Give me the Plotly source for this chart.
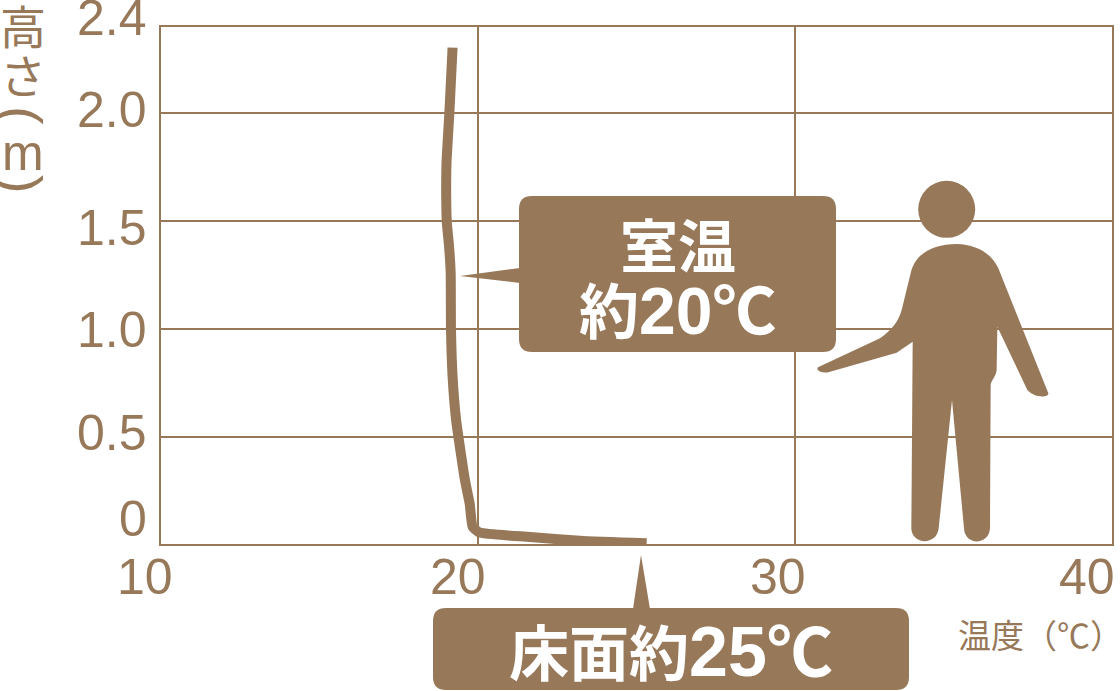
import plotly.graph_objects as go

# ---- data ----
temperature_c = [19.21, 19.11, 19.02, 19.01, 19.03, 19.10, 19.15, 19.16, 19.21, 19.32, 19.60, 19.75, 19.84, 20.05, 21.65, 23.22, 25.32]
height_m = [2.30, 2.00, 1.77, 1.61, 1.49, 1.38, 1.26, 1.00, 0.78, 0.58, 0.30, 0.19, 0.085, 0.058, 0.037, 0.02, 0.008]
x_ticks = [10, 20, 30, 40]
y_ticks = [0, 0.5, 1.0, 1.5, 2.0, 2.4]
x_tick_labels = ["10", "20", "30", "40"]
y_tick_labels = ["0", "0.5", "1.0", "1.5", "2.0", "2.4"]

BROWN = "#97795A"
W, H = 1120, 691
L, R, T, B = 160, 1113, 26, 545
CJK = "Noto Sans CJK JP"
LAT = "Liberation Sans"


def X(p):
    return (p - L) / (R - L)


def Y(p):
    return (B - p) / (B - T)


def path(cmds):
    out = []
    for c in cmds:
        op, pts = c[0], c[1:]
        out.append(op + " ".join(f"{X(pts[i]):.5f},{Y(pts[i+1]):.5f}" for i in range(0, len(pts), 2)))
    return " ".join(out) + " Z"


def rrect(x0, y0, x1, y1, r):
    return path([
        ("M", x0 + r, y0), ("L", x1 - r, y0), ("Q", x1, y0, x1, y0 + r),
        ("L", x1, y1 - r), ("Q", x1, y1, x1 - r, y1), ("L", x0 + r, y1),
        ("Q", x0, y1, x0, y1 - r), ("L", x0, y0 + r), ("Q", x0, y0, x0 + r, y0),
    ])


def Z(zx, zy):
    return (800 + zx / 3, 170 + zy / 3)


def zcmd(op, *pts):
    flat = []
    for zx, zy in pts:
        flat.extend(Z(zx, zy))
    return (op, *flat)


person = path([
    zcmd("M", (470, 222)),
    zcmd("C", (530, 224), (575, 250), (595, 295)),
    zcmd("L", (745, 670)),
    zcmd("C", (748, 682), (705, 686), (682, 660)),
    zcmd("L", (592, 470)),
    zcmd("L", (590, 600)),
    zcmd("C", (588, 620), (574, 630), (572, 645)),
    zcmd("L", (570, 1075)),
    zcmd("C", (568, 1125), (495, 1130), (492, 1075)),
    zcmd("L", (456, 690)),
    zcmd("L", (416, 1075)),
    zcmd("C", (410, 1128), (335, 1125), (334, 1075)),
    zcmd("L", (338, 515)),
    zcmd("L", (290, 548)),
    zcmd("L", (85, 607)),
    zcmd("C", (70, 610), (45, 602), (54, 592)),
    zcmd("L", (240, 505)),
    zcmd("C", (275, 480), (295, 455), (305, 420)),
    zcmd("L", (332, 310)),
    zcmd("C", (345, 250), (400, 222), (470, 222)),
])

shapes = [
    dict(type="path", path=rrect(519, 196, 836, 352, 13)),
    dict(type="path", path=path([("M", 460, 276), ("L", 520, 268), ("L", 520, 283)])),
    dict(type="path", path=rrect(433, 608, 909, 690, 13)),
    dict(type="path", path=path([("M", 641, 555), ("L", 650, 609), ("L", 633, 609)])),
    dict(type="circle", x0=X(918.2), x1=X(975.2), y0=Y(237.8), y1=Y(180.8)),
    dict(type="path", path=person),
]
for s in shapes:
    s.update(xref="paper", yref="paper", fillcolor=BROWN, line=dict(width=0), layer="above")
shapes.insert(0, dict(type="rect", xref="paper", yref="paper", x0=0, x1=1, y0=0, y1=1,
                      line=dict(color=BROWN, width=2), fillcolor="rgba(0,0,0,0)", layer="below"))

annotations = []


def txt(text, px, py, size, color=BROWN, font=LAT, xanchor="center", angle=0, weight=None):
    f = dict(family=font, size=size, color=color)
    if weight:
        f["weight"] = weight
    annotations.append(dict(text=text, x=X(px), y=Y(py), xref="paper", yref="paper", showarrow=False,
                            xanchor=xanchor, yanchor="middle", font=f, textangle=angle,
                            borderpad=0, borderwidth=0))


for lab, px in zip(x_tick_labels, [145, 458, 778, 1087]):
    txt(lab, px, 577, 50)
for lab, py in zip(y_tick_labels, [519, 433, 330, 228, 110, 18]):
    txt(lab, 147, py, 50, xanchor="right")

txt("高", 23, 24, 46, font=CJK)
txt("さ", 23, 73, 46, font=CJK)
txt("(", 23, 115, 56, angle=90)
txt("m", 23, 153, 50)
txt(")", 23, 184, 56, angle=90)

txt("温度（℃）", 958, 634, 33, font=CJK, xanchor="left")


def big(cjk, digits, dsize, csize):
    return (f'{cjk}<span style="font-family:{LAT};font-size:{dsize}px">{digits}</span>'
            f'<span style="font-size:{csize}px">℃</span>')


txt("室温", 678, 243, 58, color="white", font=CJK, weight=700)
txt(big("約", "20", 66, 64), 677, 306, 60, color="white", font=CJK, weight=700)
txt(big("床面約", "25", 70, 66), 671, 647, 60, color="white", font=CJK, weight=700)

fig = go.Figure(go.Scatter(x=temperature_c, y=height_m, mode="lines",
                           line=dict(color=BROWN, width=10, shape="spline", smoothing=0.5),
                           hoverinfo="skip", showlegend=False))
axis = dict(showgrid=True, gridcolor=BROWN, gridwidth=2, showline=False,
            zeroline=False, ticks="", showticklabels=False)
fig.update_layout(
    width=W, height=H, autosize=False,
    margin=dict(l=L, r=W - R, t=T, b=H - B, pad=0),
    paper_bgcolor="white", plot_bgcolor="white", showlegend=False,
    xaxis=dict(range=[10, 40], tickvals=x_ticks, **axis),
    yaxis=dict(range=[0, 2.4], tickvals=y_ticks, **axis),
    shapes=shapes, annotations=annotations,
)
fig.write_html("out.html", config=dict(displayModeBar=False),
               post_script="document.body.style.margin='0';document.documentElement.style.overflow='hidden';")
